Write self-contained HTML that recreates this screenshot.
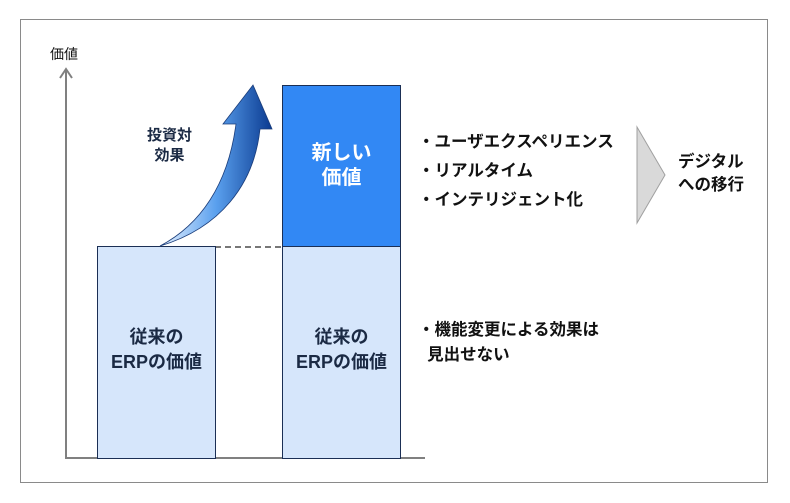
<!DOCTYPE html>
<html><head><meta charset="utf-8"><style>
body{margin:0;background:#fff;width:790px;height:503px;overflow:hidden;font-family:"Liberation Sans","Noto Sans CJK JP",sans-serif}
.t{position:absolute;font-weight:bold;white-space:nowrap;color:#111}
</style></head><body>
<svg width="790" height="503" style="position:absolute;left:0;top:0">
<defs>
<linearGradient id="g" x1="0" y1="0" x2="1" y2="0">
<stop offset="0" stop-color="#e8f2ff"/><stop offset="0.5" stop-color="#5aa0ee"/><stop offset="1" stop-color="#0a3a90"/>
</linearGradient>
</defs>
<rect x="20.5" y="19.5" width="747" height="463" fill="#fff" stroke="#8a8a8a"/>
<line x1="66" y1="458" x2="66" y2="69" stroke="#808080" stroke-width="2"/>
<polyline points="60,78 66,69 72,78" fill="none" stroke="#808080" stroke-width="2"/>
<line x1="65" y1="458" x2="425" y2="458" stroke="#808080" stroke-width="2"/>
<line x1="215" y1="247" x2="282" y2="247" stroke="#777" stroke-width="2" stroke-dasharray="6,4"/>
<rect x="97.5" y="246.5" width="118" height="212" fill="#d6e6fb" stroke="#1b2f55"/>
<rect x="282.5" y="246.5" width="118" height="212" fill="#d6e6fb" stroke="#1b2f55"/>
<rect x="282.5" y="85.5" width="118" height="161" fill="#3288f4" stroke="#1b2f55"/>
<path d="M160,246 C200,225 228,185 236,124 L223,124 L253,85 L272,129 L260,129 C254,185 220,228 160,246 Z" fill="url(#g)" stroke="#1b3d7a" stroke-width="0.8"/>
<polygon points="637,127 665,175 637,223" fill="#d9d9d9" stroke="#a0a0a0"/>
</svg>
<div class="t" style="left:50px;top:44px;font-weight:normal;font-size:14px">価値</div>
<div class="t" style="left:147px;top:126px;font-size:15px;line-height:20px;text-align:center;color:#1b2a44">投資対<br>効果</div>
<div class="t" style="left:282px;top:141px;width:119px;text-align:center;font-size:20px;line-height:25px;color:#fff">新しい<br>価値</div>
<div class="t" style="left:97px;top:325px;width:119px;text-align:center;font-size:18px;line-height:25px;color:#1b2a44">従来の<br>ERPの価値</div>
<div class="t" style="left:282px;top:325px;width:119px;text-align:center;font-size:18px;line-height:25px;color:#1b2a44">従来の<br>ERPの価値</div>
<div class="t" style="left:418px;top:128px;font-size:16.5px;line-height:29px">・ユーザエクスペリエンス<br>・リアルタイム<br>・インテリジェント化</div>
<div class="t" style="left:678px;top:151px;font-size:16.5px;line-height:23px">デジタル<br>への移行</div>
<div class="t" style="left:418px;top:318px;font-size:16.5px;line-height:25px">・機能変更による効果は<br>&nbsp;&nbsp;見出せない</div>
</body></html>
